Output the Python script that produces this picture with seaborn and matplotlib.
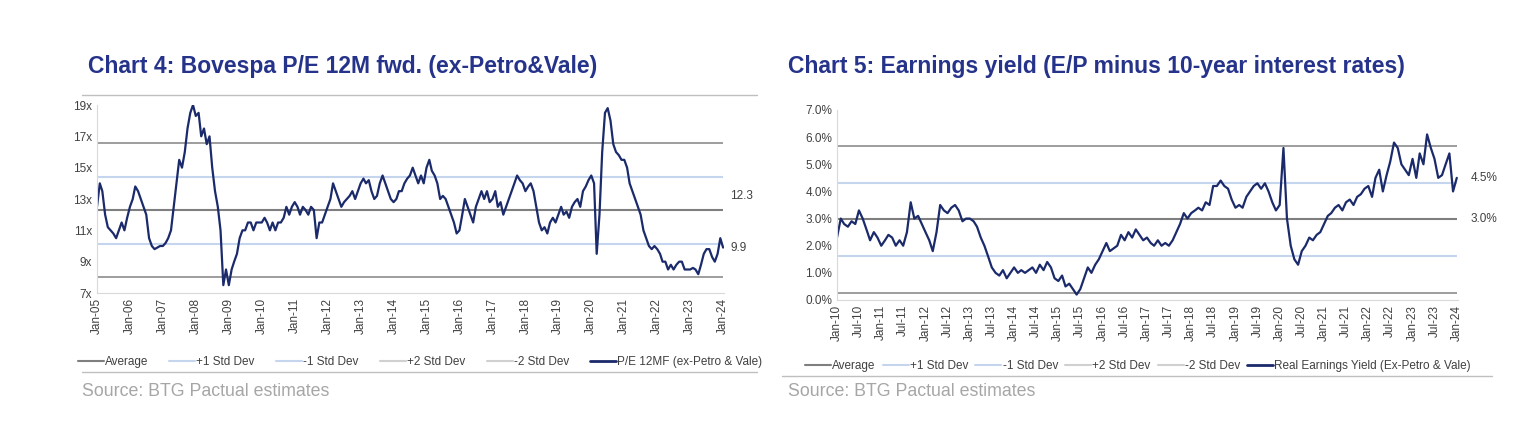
import numpy as np
import pandas as pd
import matplotlib
matplotlib.use("Agg")
import matplotlib.pyplot as plt
import matplotlib.dates as mdates
from matplotlib.lines import Line2D
import seaborn as sns

# Chart 4: Bovespa P/E 12M fwd, monthly Jan-05 .. Jan-24
pe_values = [
    12.5, 14.0, 13.5, 12.0, 11.2, 11.0, 10.8, 10.5, 11.0, 11.5, 11.0, 11.8,
    12.5, 13.0, 13.8, 13.5, 13.0, 12.5, 12.0, 10.5, 10.0, 9.8, 9.9, 10.0,
    10.0, 10.2, 10.5, 11.0, 12.5, 14.0, 15.5, 15.0, 16.0, 17.5, 18.5, 19.0,
    18.3, 18.5, 17.0, 17.5, 16.5, 17.0, 15.0, 13.5, 12.5, 11.0, 7.5, 8.5,
    7.5, 8.5, 9.0, 9.5, 10.5, 11.0, 11.0, 11.5, 11.5, 11.0, 11.5, 11.5,
    11.5, 11.8, 11.5, 11.0, 11.5, 11.0, 11.5, 11.5, 11.8, 12.5, 12.0, 12.5,
    12.8, 12.5, 12.0, 12.5, 12.3, 12.0, 12.5, 12.3, 10.5, 11.5, 11.5, 12.0,
    12.5, 13.0, 14.0, 13.5, 13.0, 12.5, 12.8, 13.0, 13.2, 13.5, 13.0, 13.5,
    14.0, 14.3, 14.0, 14.2, 13.5, 13.0, 13.2, 14.0, 14.5, 14.0, 13.5, 13.0,
    12.8, 13.0, 13.5, 13.5, 14.0, 14.3, 14.5, 15.0, 14.5, 14.0, 14.5, 14.0,
    15.0, 15.5, 14.8, 14.5, 14.0, 13.0, 13.2, 13.0, 12.5, 12.0, 11.5, 10.8,
    11.0, 12.0, 13.0, 12.5, 12.0, 11.5, 12.5, 13.0, 13.5, 13.0, 13.5, 12.8,
    13.0, 13.5, 12.5, 12.8, 12.0, 12.5, 13.0, 13.5, 14.0, 14.5, 14.2, 14.0,
    13.5, 13.8, 14.0, 13.5, 12.5, 11.5, 11.0, 11.2, 10.8, 11.5, 11.8, 11.5,
    12.0, 12.5, 12.0, 12.2, 11.8, 12.5, 12.8, 13.0, 12.5, 13.5, 13.8, 14.2,
    14.5, 14.0, 9.5, 12.0, 16.0, 18.5, 18.8, 18.0, 16.5, 16.0, 15.8, 15.5,
    15.5, 15.0, 14.0, 13.5, 13.0, 12.5, 12.0, 11.0, 10.5, 10.0, 9.8, 10.0,
    9.8, 9.5, 9.0, 9.0, 8.5, 8.8, 8.5, 8.8, 9.0, 9.0, 8.5, 8.5,
    8.5, 8.6, 8.5, 8.2, 8.8, 9.5, 9.8, 9.8, 9.3, 9.0, 9.5, 10.5,
    9.9,
]
pe_bands = {"avg": 12.3, "p1": 14.4, "m1": 10.1, "p2": 16.6, "m2": 8.0}

# Chart 5: real earnings yield (%), monthly Jan-10 .. Jan-24
ey_values = [
    2.3, 3.0, 2.8, 2.7, 2.9, 2.8, 3.3, 3.0, 2.6, 2.2, 2.5, 2.3,
    2.0, 2.2, 2.4, 2.3, 2.0, 2.2, 2.0, 2.5, 3.6, 3.0, 3.1, 2.8,
    2.5, 2.2, 1.8, 2.5, 3.5, 3.3, 3.2, 3.4, 3.5, 3.3, 2.9, 3.0,
    3.0, 2.9, 2.7, 2.3, 2.0, 1.6, 1.2, 1.0, 0.9, 1.1, 0.8, 1.0,
    1.2, 1.0, 1.1, 1.0, 1.1, 1.2, 1.0, 1.3, 1.1, 1.4, 1.2, 0.8,
    0.7, 0.9, 0.5, 0.6, 0.4, 0.2, 0.4, 0.8, 1.2, 1.0, 1.3, 1.5,
    1.8, 2.1, 1.8, 1.9, 2.0, 2.4, 2.2, 2.5, 2.3, 2.6, 2.4, 2.2,
    2.3, 2.1, 2.0, 2.2, 2.0, 2.1, 2.0, 2.2, 2.5, 2.8, 3.2, 3.0,
    3.2, 3.3, 3.4, 3.3, 3.6, 3.5, 4.2, 4.2, 4.4, 4.2, 4.1, 3.7,
    3.4, 3.5, 3.4, 3.8, 4.0, 4.2, 4.3, 4.1, 4.3, 4.0, 3.6, 3.3,
    3.5, 5.6, 3.0, 2.0, 1.5, 1.3, 1.8, 2.0, 2.3, 2.2, 2.4, 2.5,
    2.8, 3.1, 3.2, 3.4, 3.5, 3.3, 3.6, 3.7, 3.5, 3.8, 3.9, 4.1,
    4.2, 3.8, 4.5, 4.8, 4.0, 4.6, 5.1, 5.8, 5.6, 5.0, 4.8, 4.6,
    5.2, 4.5, 5.4, 5.0, 6.1, 5.6, 5.2, 4.5, 4.6, 5.0, 5.4, 4.0,
    4.5,
]
ey_bands = {"avg": 3.0, "p1": 4.3, "m1": 1.63, "p2": 5.67, "m2": 0.27}

NAVY = "#1b2a6b"
TITLE = "#26338a"
DARK_GREY = "#8c8c8c"
LIGHT_BLUE = "#c5d5ee"
LIGHT_GREY = "#d0d0d0"

pe_df = pd.DataFrame({"date": pd.date_range("2005-01-01", periods=len(pe_values), freq="MS"),
                      "value": pe_values})
ey_df = pd.DataFrame({"date": pd.date_range("2010-01-01", periods=len(ey_values), freq="MS"),
                      "value": ey_values})

sns.set_style("white")
plt.rcParams["font.family"] = ["Liberation Sans", "DejaVu Sans"]

fig = plt.figure(figsize=(15.4, 4.28), dpi=100)
ax1 = fig.add_axes([97 / 1540, 1 - 293 / 428, 627 / 1540, 188 / 428])
ax2 = fig.add_axes([837 / 1540, 1 - 300 / 428, 621 / 1540, 190 / 428])


def draw_bands(ax, bands, x0, x1):
    ax.hlines(bands["p2"], x0, x1, color=DARK_GREY, lw=1.2)
    ax.hlines(bands["m2"], x0, x1, color=DARK_GREY, lw=1.2)
    ax.hlines(bands["p1"], x0, x1, color=LIGHT_BLUE, lw=1.5)
    ax.hlines(bands["m1"], x0, x1, color=LIGHT_BLUE, lw=1.5)
    ax.hlines(bands["avg"], x0, x1, color="#7f7f7f", lw=1.5)


def style_axes(ax):
    for s in ["top", "right"]:
        ax.spines[s].set_visible(False)
    for s in ["left", "bottom"]:
        ax.spines[s].set_color("#d9d9d9")
    ax.set_xlabel("")
    ax.set_ylabel("")
    ax.tick_params(axis="both", labelsize=8.5, colors="#404040", length=0)
    ax.tick_params(axis="x", rotation=90)


# Chart 4
x0, x1 = pe_df["date"].iloc[0], pe_df["date"].iloc[-1]
draw_bands(ax1, pe_bands, x0, x1)
sns.lineplot(data=pe_df, x="date", y="value", ax=ax1, color=NAVY, lw=1.6)
ax1.set_xlim(x0, x1 + pd.Timedelta(days=10))
ax1.set_ylim(7, 19)
ax1.set_yticks(range(7, 20, 2))
ax1.set_yticklabels([f"{v}x" for v in range(7, 20, 2)])
ax1.set_xticks(pd.date_range("2005-01-01", "2024-01-01", freq="YS"))
ax1.xaxis.set_major_formatter(mdates.DateFormatter("%b-%y"))
style_axes(ax1)
ax1.text(1.01, pe_bands["avg"] + 0.5, f"{pe_bands['avg']:.1f}", transform=ax1.get_yaxis_transform(),
         fontsize=8.5, color="#404040", va="bottom")
ax1.text(1.01, pe_values[-1], f"{pe_values[-1]:.1f}", transform=ax1.get_yaxis_transform(),
         fontsize=8.5, color="#404040", va="center")

# Chart 5
x0, x1 = ey_df["date"].iloc[0], ey_df["date"].iloc[-1]
draw_bands(ax2, ey_bands, x0, x1)
sns.lineplot(data=ey_df, x="date", y="value", ax=ax2, color=NAVY, lw=1.6)
ax2.set_xlim(x0, x1 + pd.Timedelta(days=10))
ax2.set_ylim(0, 7)
ax2.set_yticks(np.arange(0, 7.1, 1))
ax2.set_yticklabels([f"{v:.1f}%" for v in np.arange(0, 7.1, 1)])
ax2.set_xticks(pd.date_range("2010-01-01", "2024-01-01", freq="6MS"))
ax2.xaxis.set_major_formatter(mdates.DateFormatter("%b-%y"))
style_axes(ax2)
ax2.text(1.02, ey_values[-1], f"{ey_values[-1]:.1f}%", transform=ax2.get_yaxis_transform(),
         fontsize=8.5, color="#404040", va="center")
ax2.text(1.02, ey_bands["avg"], f"{ey_bands['avg']:.1f}%", transform=ax2.get_yaxis_transform(),
         fontsize=8.5, color="#404040", va="center")


def legend_handles(last_label):
    return ([Line2D([], [], color="#7f7f7f", lw=1.5),
             Line2D([], [], color=LIGHT_BLUE, lw=1.5),
             Line2D([], [], color=LIGHT_BLUE, lw=1.5),
             Line2D([], [], color=LIGHT_GREY, lw=1.5),
             Line2D([], [], color=LIGHT_GREY, lw=1.5),
             Line2D([], [], color=NAVY, lw=2)],
            ["Average", "+1 Std Dev", "-1 Std Dev", "+2 Std Dev", "-2 Std Dev", last_label])

h, l = legend_handles("P/E 12MF (ex-Petro & Vale)")
fig.legend(h, l, loc="center", bbox_to_anchor=(420 / 1540, 1 - 362 / 428), ncol=6, frameon=False,
           fontsize=8.5, handlelength=2.2, handletextpad=0.1, columnspacing=1.8, labelcolor="#404040")
h, l = legend_handles("Real Earnings Yield (Ex-Petro & Vale)")
fig.legend(h, l, loc="center", bbox_to_anchor=(1138 / 1540, 1 - 366 / 428), ncol=6, frameon=False,
           fontsize=8.5, handlelength=2.2, handletextpad=0.1, columnspacing=0.6, labelcolor="#404040")

# titles, rules, source
fig.text(88 / 1540, 1 - 66 / 428, "Chart 4: Bovespa P/E 12M fwd. (ex-Petro&Vale)",
         fontsize=16.5, fontweight="bold", color=TITLE, va="center")
fig.text(788 / 1540, 1 - 66 / 428, "Chart 5: Earnings yield (E/P minus 10-year interest rates)",
         fontsize=16.5, fontweight="bold", color=TITLE, va="center")
for (xa, xb, y) in [(82, 757, 95), (82, 757, 372), (782, 1492, 376)]:
    fig.add_artist(Line2D([xa / 1540, xb / 1540], [1 - y / 428, 1 - y / 428], color="#bfbfbf", lw=1))
fig.text(82 / 1540, 1 - 392 / 428, "Source: BTG Pactual estimates", fontsize=12.8, color="#a6a6a6", va="center")
fig.text(788 / 1540, 1 - 392 / 428, "Source: BTG Pactual estimates", fontsize=12.8, color="#a6a6a6", va="center")

fig.savefig("out.png", dpi=100, facecolor="white")
